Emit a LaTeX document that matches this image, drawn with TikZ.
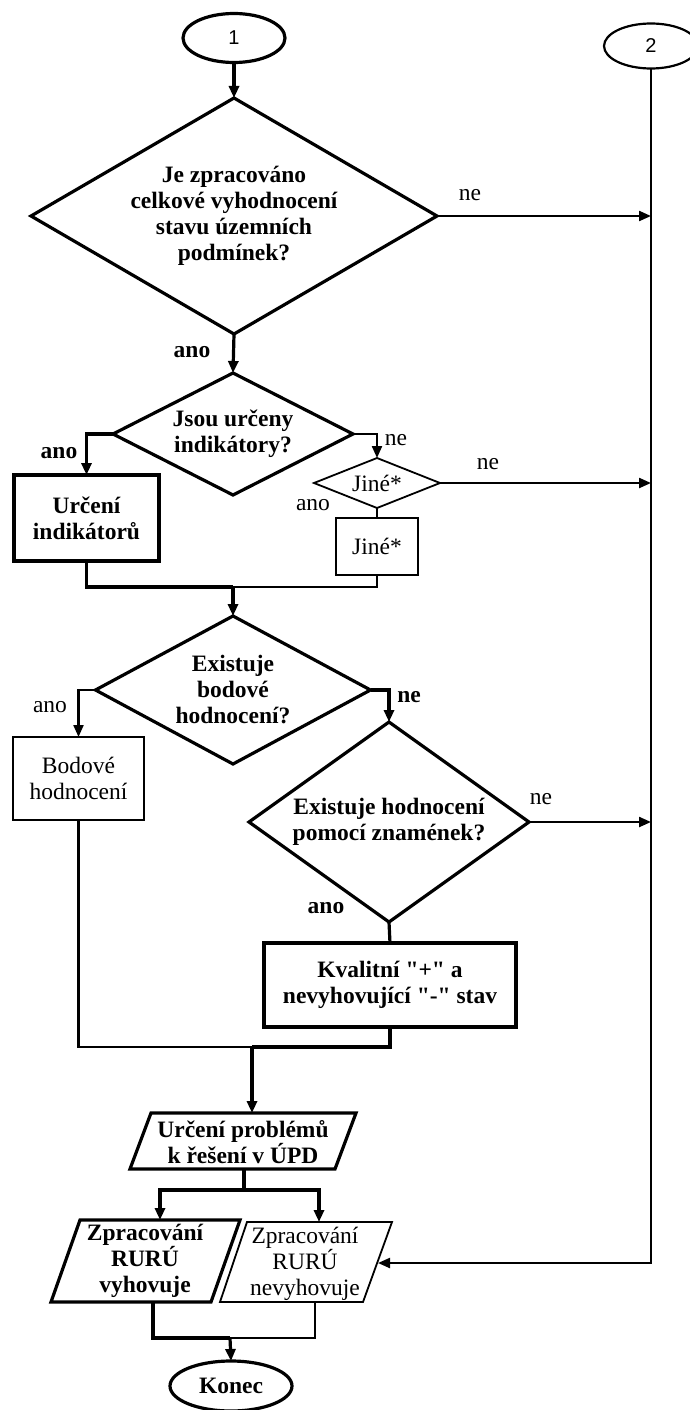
\documentclass[tikz,border=0pt]{standalone}
\usepackage{fontspec}
\setmainfont{Liberation Serif}[Ligatures=TeXOff]
\newfontfamily\sansfnt{Liberation Sans}
\usetikzlibrary{shapes.geometric,arrows.meta}
\begin{document}
\begin{tikzpicture}[x=1pt,y=-1pt,
  every node/.style={font=\fontsize{23.5}{26}\selectfont, inner sep=0pt, outer sep=0pt, align=center},
  thk/.style={line width=3.2pt},
  mid/.style={line width=2.2pt},
  thn/.style={line width=1.8pt},
  arr/.style={-{Triangle[length=12pt,width=10pt]}},
  dia/.style={diamond, draw},
  bx/.style={rectangle, draw},
  ell/.style={ellipse, draw},
  bf/.style={font=\fontsize{23.5}{26}\selectfont\bfseries},
  sf/.style={font=\fontsize{20}{22}\selectfont\sansfnt},
]
\useasboundingbox (0,0) rectangle (690,1410);

% terminals
\node[ell, thk, sf, minimum width=102pt, minimum height=49pt] (e1) at (234,38) {1};
\node[ell, mid, sf, minimum width=94pt, minimum height=45pt] (e2) at (651,46) {2};

% decisions and boxes
\node[dia, thk, bf, aspect=1.72, minimum width=406pt, minimum height=236pt] (d1) at (234,216)
  {Je zpracováno\\celkové vyhodnocení\\stavu územních\\podmínek?};
\node[dia, thk, bf, aspect=1.967, minimum width=240pt, minimum height=122pt] (d2) at (233,434)
  {Jsou určeny\\indikátory?};
\node[bx, thk, bf, minimum width=145pt, minimum height=86pt] (u) at (86.5,518)
  {Určení\\indikátorů};
\node[dia, thn, aspect=2.52, minimum width=126pt, minimum height=50pt] (d3) at (377,483) {Jiné*};
\node[bx, thn, minimum width=82pt, minimum height=57pt] (jb) at (377,546.5) {Jiné*};
\node[dia, thk, bf, aspect=1.858, minimum width=275pt, minimum height=148pt] (d4) at (233,690)
  {Existuje\\bodové\\hodnocení?};
\node[bx, thn, minimum width=131pt, minimum height=83pt] (b) at (78.5,778.5)
  {Bodové\\hodnocení};
\node[dia, thk, bf, aspect=1.4, minimum width=280pt, minimum height=200pt] (d5) at (389,822)
  {Existuje hodnocení\\pomocí znamének?};
\node[bx, thk, bf, minimum width=252pt, minimum height=84pt] (k) at (390,985)
  {Kvalitní "+" a\\nevyhovující "-" stav};

% parallelograms
\draw[thk] (151,1113) -- (356,1113) -- (335,1169) -- (130,1169) -- cycle;
\node[bf] (p1) at (243,1142) {Určení problémů\\k řešení v ÚPD};
\coordinate (p1t) at (252,1113);
\coordinate (p1b) at (244,1169);

\draw[thk] (80,1220) -- (240,1220) -- (211,1302) -- (51,1302) -- cycle;
\node[bf] (p2) at (145,1261) {Zpracování\\RURÚ\\vyhovuje};
\coordinate (p2t) at (160,1220);
\coordinate (p2b) at (153,1302);

\draw[thn] (247,1222) -- (392,1222) -- (363,1302) -- (220,1302) -- cycle;
\node (p3) at (305,1264) {Zpracování\\RURÚ\\nevyhovuje};
\coordinate (p3t) at (319,1222);
\coordinate (p3b) at (315,1302);
\coordinate (p3r) at (378,1263);

\node[ell, thk, bf, minimum width=122pt, minimum height=50pt] (konec) at (231,1386) {Konec};

% junction points
\coordinate (j1) at (233,587);
\coordinate (j2) at (252,1047);
\coordinate (j3) at (244,1190);
\coordinate (j4) at (230,1338);

% connectors
\draw[thk,arr] (e1.south) -- (d1.north);
\draw[mid,arr] (d1.east) -- (d1.east -| e2.south);
\draw[mid,arr] (e2.south) |- (p3r);
\draw[thk,arr] (d1.south) -- (d2.north);
\draw[thk,arr] (d2.west) -| (u.north);
\draw[mid,arr] (d2.east) -| (d3.north);
\draw[mid,arr] (d3.east) -- (d3.east -| e2.south);
\draw[mid] (d3.south) -- (jb.north);
\draw[thk] (u.south) |- (j1);
\draw[mid] (jb.south) |- (j1);
\draw[thk,arr] (j1) -- (d4.north);
\draw[mid,arr] (d4.west) -| (b.north);
\draw[thk,arr] (d4.east) -| (d5.north);
\draw[mid,arr] (d5.east) -- (d5.east -| e2.south);
\draw[thk] (d5.south) -- (k.north);
\draw[thk] (k.south) |- (j2);
\draw[mid] (b.south) |- (j2);
\draw[thk,arr] (j2) -- (p1t);
\draw[thk] (p1b) -- (j3);
\draw[thk,arr] (j3) -| (p2t);
\draw[thk,arr] (j3) -| (p3t);
\draw[thk] (p2b) |- (j4);
\draw[mid] (p3b) |- (j4);
\draw[thk,arr] (j4) -- (konec.north);

% labels
\node at (470,195) {ne};
\node[bf] at (192,352) {ano};
\node[bf] at (59,453) {ano};
\node at (396,440) {ne};
\node at (488,464) {ne};
\node at (313,505) {ano};
\node at (50,707) {ano};
\node[bf] at (409,697) {ne};
\node at (541,799) {ne};
\node[bf] at (326,908) {ano};
\end{tikzpicture}
\end{document}
